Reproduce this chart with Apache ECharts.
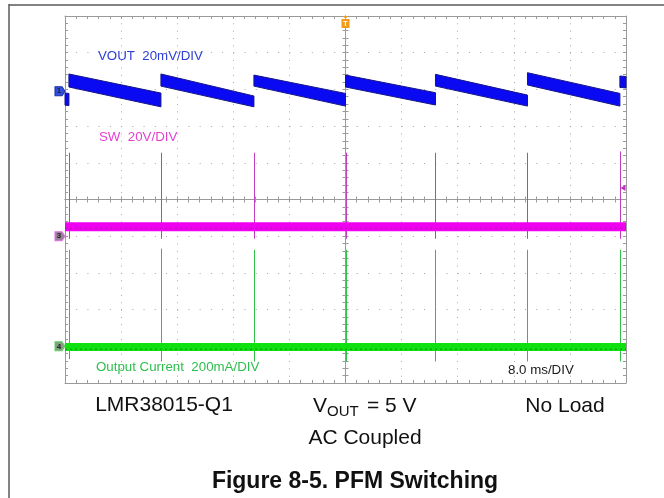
<!DOCTYPE html>
<html>
<head>
<meta charset="utf-8">
<title>PFM Switching</title>
<script src="https://cdn.jsdelivr.net/npm/echarts@6/dist/echarts.min.js"></script>
<style>
  html, body { margin: 0; padding: 0; background: #fff; }
  #chart { width: 664px; height: 498px; }
</style>
</head>
<body>
<div id="chart"></div>
<script>
// time axis: 8 ms/DIV, 10 divisions, trigger in the middle
const timeRange = [-40, 40]
// vertical channel ranges (10 divisions each), chosen so the ground markers sit where the scope put them
const ch1Range = [-159, 41]    // VOUT, mV (20 mV/DIV)
const ch3Range = [-80, 120]    // SW, V (20 V/DIV)
const ch4Range = [-200, 1800]  // output current, mA (200 mA/DIV)

// VOUT ripple, one row per ramp: [tStart, tEnd, topStart, bottomStart, topEnd, bottomEnd]
const voutRamps = [
  [-40.00, -39.44, -1.0, -7.6, -1.2, -7.8],
  [-39.44, -26.32, 9.4, 2.3, -1.0, -8.5],
  [-26.32, -13.06, 9.4, 2.8, -2.6, -8.5],
  [-13.06, 0.00, 8.8, 2.8, -1.2, -8.1],
  [0.00, 12.83, 8.8, 2.3, -0.8, -7.5],
  [12.83, 25.95, 9.2, 2.8, -2.1, -8.1],
  [25.95, 39.13, 10.1, 3.4, -1.2, -8.1],
  [39.13, 40.00, 8.3, 2.1, 8.0, 1.8]
]

// switching events (ms) and the spikes seen on SW and output current
const switchTimes = [-39.44, -26.32, -13.06, 0.00, 12.83, 25.95, 39.13]
const swSpikeHigh = [45.5, 45.5, 45.5, 45.5, 45.5, 45.5, 46.2]
const swSpikeLow = [-1.4, -1.4, -1.4, -1.4, -1.4, -1.4, -1.4]
const ioutSpikeHigh = [526, 532, 526, 526, 526, 526, 526]
const ioutSpikeLow = [-70, -83, -83, -83, -83, -83, -83]

// idle levels between pulses
const swLevel = 5.2      // V
const ioutLevel = -4     // mA
const triggerLevel = 26.3 // V, on SW

const FONT = '"Liberation Sans", Arial, Helvetica, sans-serif'
const GRID_COLOR = '#a6a6a6'

const chart = echarts.init(document.getElementById('chart'), null, { renderer: 'canvas' })

function borderAxis(pos, gridIndex, range, interval, split, dash) {
  return {
    type: 'value',
    gridIndex: gridIndex,
    position: pos,
    min: range[0],
    max: range[1],
    interval: interval,
    axisLine: { show: true, onZero: false, lineStyle: { color: '#9a9a9a', width: 1 } },
    axisTick: { show: true, inside: true, length: 3, lineStyle: { color: '#9a9a9a' } },
    minorTick: { show: true, splitNumber: 5, length: 3, lineStyle: { color: '#9a9a9a' } },
    axisLabel: { show: false },
    splitLine: { show: split, lineStyle: { color: GRID_COLOR, width: 1, type: dash } }
  }
}

function centreAxis(gridIndex, range, interval, inside) {
  return {
    type: 'value',
    gridIndex: gridIndex,
    min: range[0],
    max: range[1],
    interval: interval,
    axisLine: { show: true, onZero: true, lineStyle: { color: '#9a9a9a', width: 1 } },
    axisTick: { show: true, inside: inside, length: 3, lineStyle: { color: '#9a9a9a' } },
    minorTick: { show: true, splitNumber: 5, length: 3, lineStyle: { color: '#9a9a9a' } },
    axisLabel: { show: false },
    splitLine: { show: false }
  }
}

function hiddenY(range) {
  return { type: 'value', gridIndex: 0, min: range[0], max: range[1], show: false }
}

// thick noisy VOUT band, drawn as one polygon per ramp
function renderRamp(params, api) {
  const a = api.coord([api.value(0), api.value(2)])
  const b = api.coord([api.value(1), api.value(4)])
  const c = api.coord([api.value(1), api.value(5)])
  const d = api.coord([api.value(0), api.value(3)])
  return {
    type: 'polygon',
    shape: { points: [a, b, c, d] },
    style: { fill: '#0a0af2', stroke: '#141488', lineWidth: 1 }
  }
}

function spikeRenderer(color) {
  return function(params, api) {
    const top = api.coord([api.value(0), api.value(1)])
    const bot = api.coord([api.value(0), api.value(2)])
    const x = Math.round(top[0]) + 0.5
    return {
      type: 'line',
      shape: { x1: x, y1: top[1], x2: x, y2: bot[1] },
      style: { stroke: color, lineWidth: 1 }
    }
  }
}

const swSpikes = switchTimes.map((t, i) => [t, swSpikeHigh[i], swSpikeLow[i]])
const ioutSpikes = switchTimes.map((t, i) => [t, ioutSpikeHigh[i], ioutSpikeLow[i]])

function chMarker(num, yIndex, fill, border) {
  return {
    type: 'scatter',
    xAxisIndex: 0,
    yAxisIndex: yIndex,
    silent: true,
    symbol: 'path://M0,0 L7,0 L10,4.5 L7,9 L0,9 Z',
    symbolSize: [10, 9],
    symbolOffset: [-5, 0],
    itemStyle: { color: fill, borderColor: border, borderWidth: 1, opacity: 1 },
    label: {
      show: true,
      position: 'inside',
      offset: [-1, 0],
      formatter: num,
      fontSize: 8,
      fontWeight: 'bold',
      color: '#222',
      fontFamily: FONT
    },
    data: [[timeRange[0], 0]],
    z: 10
  }
}

function plotText(text, x, y, color, size) {
  return {
    type: 'text',
    x: x,
    y: y,
    silent: true,
    style: {
      text: text,
      fill: color,
      fontSize: size || 13.3,
      fontFamily: FONT,
      align: 'left',
      verticalAlign: 'middle'
    },
    z: 20
  }
}

function captionText(text, x, y, size, weight, align) {
  return {
    type: 'text',
    x: x,
    y: y,
    silent: true,
    style: {
      text: text,
      fill: '#111',
      fontSize: size,
      fontWeight: weight || 'normal',
      fontFamily: FONT,
      align: align || 'center',
      verticalAlign: 'middle'
    },
    z: 20
  }
}

const option = {
  backgroundColor: '#fff',
  animation: false,
  grid: [
    { left: 65, top: 16, width: 561, height: 367 },
    { left: 65, top: 16, width: 561, height: 367 },
    { left: 65, top: 16, width: 561, height: 367 }
  ],
  xAxis: [
    borderAxis('bottom', 0, timeRange, 8, true, [1, 6.34]),
    borderAxis('top', 0, timeRange, 8, false, 'solid'),
    centreAxis(1, timeRange, 8, true),
    centreAxis(2, timeRange, 8, false)
  ],
  yAxis: [
    borderAxis('left', 0, [-5, 5], 1, true, [1, 10.22]),
    borderAxis('right', 0, [-5, 5], 1, false, 'solid'),
    centreAxis(1, [-5, 5], 1, true),
    centreAxis(2, [-5, 5], 1, false),
    hiddenY(ch1Range),
    hiddenY(ch3Range),
    hiddenY(ch4Range)
  ],
  series: [
    {
      name: 'SW spikes',
      type: 'custom',
      xAxisIndex: 0,
      yAxisIndex: 5,
      silent: true,
      renderItem: spikeRenderer('#c03cc0'),
      encode: { x: 0, y: [1, 2] },
      data: swSpikes,
      z: 3
    },
    {
      name: 'Output current spikes',
      type: 'custom',
      xAxisIndex: 0,
      yAxisIndex: 6,
      silent: true,
      renderItem: spikeRenderer('#30c04a'),
      encode: { x: 0, y: [1, 2] },
      data: ioutSpikes,
      z: 3
    },
    {
      name: 'SW',
      type: 'line',
      xAxisIndex: 0,
      yAxisIndex: 5,
      silent: true,
      showSymbol: false,
      lineStyle: { color: '#f000f0', width: 9 },
      data: [[timeRange[0], swLevel], [timeRange[1], swLevel]],
      z: 4
    },
    {
      name: 'SW noise',
      type: 'line',
      xAxisIndex: 0,
      yAxisIndex: 5,
      silent: true,
      showSymbol: false,
      lineStyle: { color: '#b018b0', width: 1, type: [2, 3] },
      data: [[timeRange[0], swLevel - 0.9], [timeRange[1], swLevel - 0.9]],
      z: 5
    },
    {
      name: 'Output current',
      type: 'line',
      xAxisIndex: 0,
      yAxisIndex: 6,
      silent: true,
      showSymbol: false,
      lineStyle: { color: '#0fe00f', width: 8 },
      data: [[timeRange[0], ioutLevel], [timeRange[1], ioutLevel]],
      z: 4
    },
    {
      name: 'Output current noise',
      type: 'line',
      xAxisIndex: 0,
      yAxisIndex: 6,
      silent: true,
      showSymbol: false,
      lineStyle: { color: '#0a960a', width: 1, type: [2, 3] },
      data: [[timeRange[0], ioutLevel - 12], [timeRange[1], ioutLevel - 12]],
      z: 5
    },
    {
      name: 'VOUT',
      type: 'custom',
      xAxisIndex: 0,
      yAxisIndex: 4,
      silent: true,
      renderItem: renderRamp,
      encode: { x: [0, 1], y: [2, 3, 4, 5] },
      data: voutRamps,
      z: 6
    },
    chMarker('1', 4, '#3050e0', '#1a2fb0'),
    chMarker('3', 5, '#9a809a', '#e070e0'),
    chMarker('4', 6, '#86a086', '#60d060'),
    {
      // trigger position marker
      type: 'scatter',
      xAxisIndex: 0,
      yAxisIndex: 0,
      silent: true,
      symbol: 'path://M1,0 L7,0 L4,2.5 Z M0,3 L8,3 L8,12 L0,12 Z',
      symbolSize: [8, 12],
      symbolOffset: [0, 6],
      itemStyle: { color: '#f29a1c', opacity: 1 },
      label: {
        show: true,
        position: 'inside',
        offset: [0, 2],
        formatter: 'T',
        fontSize: 7,
        fontWeight: 'bold',
        color: '#fff',
        fontFamily: FONT
      },
      data: [[0, 5]],
      z: 10
    },
    {
      // trigger level arrow on SW
      type: 'scatter',
      xAxisIndex: 0,
      yAxisIndex: 5,
      silent: true,
      symbol: 'triangle',
      symbolSize: [6, 5],
      symbolRotate: 90,
      symbolOffset: [-3, 0],
      itemStyle: { color: '#c030c0', opacity: 1 },
      data: [[timeRange[1], triggerLevel]],
      z: 10
    }
  ],
  graphic: [
    // page frame
    { type: 'line', silent: true, shape: { x1: 9, y1: 5, x2: 664, y2: 5 }, style: { stroke: '#5a5a5a', lineWidth: 1.5 } },
    { type: 'line', silent: true, shape: { x1: 9, y1: 4, x2: 9, y2: 498 }, style: { stroke: '#5a5a5a', lineWidth: 1.5 } },
    plotText('VOUT  20mV/DIV', 98, 56, '#2c3ed4'),
    plotText('SW  20V/DIV', 99, 137, '#e43fd0'),
    plotText('Output Current  200mA/DIV', 96, 367, '#2fbe4e'),
    plotText('8.0 ms/DIV', 508, 370, '#1a1a1a'),
    captionText('LMR38015-Q1', 164, 405.5, 21),
    captionText('V', 313, 406, 21, 'normal', 'left'),
    captionText('OUT', 327, 411.5, 15, 'normal', 'left'),
    captionText('= 5 V', 367, 406, 21, 'normal', 'left'),
    captionText('No Load', 565, 406.5, 21),
    captionText('AC Coupled', 365, 438, 21),
    captionText('Figure 8-5. PFM Switching', 355, 482, 23, 'bold')
  ]
}

chart.setOption(option)
</script>
</body>
</html>
